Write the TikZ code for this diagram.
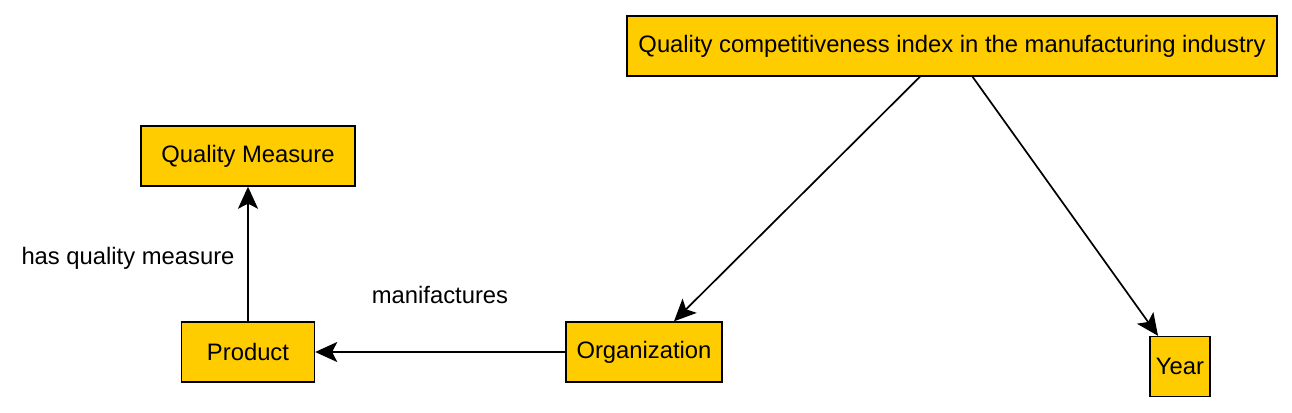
\documentclass[tikz,border=0pt]{standalone}
\usepackage{fontspec}
\setmainfont{Liberation Sans}
\usetikzlibrary{arrows.meta}
\definecolor{boxgold}{HTML}{FFCC00}
\tikzset{
  concept/.style={draw=black, line width=1.4pt, fill=boxgold, rectangle, inner sep=0pt,
    font=\fontsize{23.8}{28}\selectfont},
  rel/.style={draw=black, line width=1.7pt, -{Stealth[length=22pt,width=20pt,inset=5pt]}},
  rellabel/.style={font=\fontsize{23.8}{28}\selectfont, inner sep=0pt}
}
\begin{document}
\begin{tikzpicture}[x=1pt,y=-1pt]
\useasboundingbox (0,0) rectangle (1292,412);
\node[concept, minimum width=650pt, minimum height=60pt] (top) at (952,46) {Quality competitiveness index in the manufacturing industry};
\node[concept, minimum width=214pt, minimum height=60pt] (qm) at (248,156) {Quality Measure};
\node[concept, minimum width=133pt, minimum height=60pt] (prod) at (248,352) {Product};
\node[concept, minimum width=156pt, minimum height=60pt] (org) at (644,352) {Organization};
\node[concept, minimum width=60pt, minimum height=60pt] (year) at (1180,366.5) {Year};
\draw[rel] ([xshift=-32pt]top.south) -- ([xshift=30pt]org.north);
\draw[rel] ([xshift=20.5pt]top.south) -- ([xshift=-22pt]year.north);
\draw[rel] (org.west) -- (prod.east);
\draw[rel] (prod.north) -- (qm.south);
\node[rellabel] (lblqm) at (128,258) {has quality measure};
\node[rellabel] (lblman) at (440,295) {manifactures};
\end{tikzpicture}
\end{document}
